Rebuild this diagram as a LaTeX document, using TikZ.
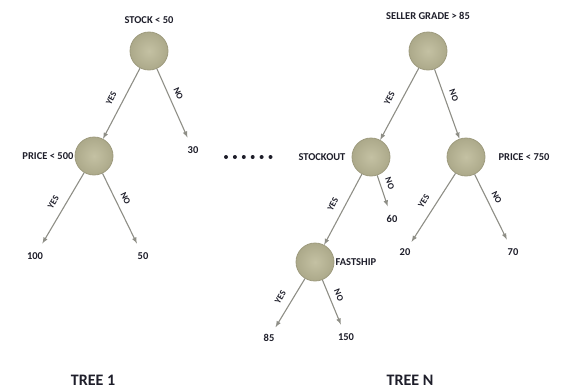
\documentclass[tikz,border=0pt]{standalone}
\usepackage{fontspec}
\setmainfont{Carlito}
\usetikzlibrary{positioning}

\definecolor{nodein}{HTML}{C4C1A3}
\definecolor{nodeout}{HTML}{ACA98A}
\definecolor{nodeedge}{HTML}{9E9B7E}
\definecolor{edgegray}{HTML}{8E8E86}
\definecolor{txt}{HTML}{1E1E2A}

\begin{document}
\begin{tikzpicture}[x=1pt, y=-1pt,
        split/.style={circle, minimum size=38pt, inner sep=0pt, draw=nodeedge, line width=0.8pt, inner color=nodein, outer color=nodeout},
        cond/.style={font=\bfseries\fontsize{10.5}{12}\selectfont, text=txt, inner sep=1pt},
        leaf/.style={font=\bfseries\fontsize{10.5}{12}\selectfont, text=txt, inner sep=1pt, outer ysep=8pt},
        branch/.style={draw=edgegray, line width=1.1pt, -latex},
        yes/.style={sloped, above=8pt, pos=0.5, inner sep=0pt, font=\bfseries\fontsize{9}{10}\selectfont, text=txt},
        no/.style={sloped, above=6pt, pos=0.42, inner sep=0pt, font=\bfseries\fontsize{9}{10}\selectfont, text=txt},
        title/.style={font=\bfseries\fontsize{16}{18}\selectfont, text=txt}]
        %\draw[step=20pt,gray,very thin] (0,0) grid (561,388);
        \useasboundingbox (0,0) rectangle (561,388);

        % Tree 1.
        \node[split] (stock) at (149,51) {};
        \node[cond, above=7pt of stock] (stockL) {STOCK < 50};
        \node[split] (price1) at (94,156) {};
        \node[cond, left=0pt of price1] (price1L) {PRICE < 500};
        \node[leaf] (v30) at (193,150) {30};
        \node[leaf] (v100) at (35,256) {100};
        \node[leaf] (v50) at (143,256) {50};

        \draw[branch] (stock) -- (price1) node[yes] (stockY) {YES};
        \draw[branch] (stock) -- (v30) node[no] (stockN) {NO};
        \draw[branch] (price1) -- (v100) node[yes] (price1Y) {YES};
        \draw[branch] (price1) -- (v50) node[no] (price1N) {NO};

        \node[title] (tree1) at (93,380) {TREE 1};

        % dots between the trees
        \foreach \i in {0,...,5}
            \fill[txt] (226+8.9*\i,157) circle (2pt);

        % Tree N.
        \node[split] (grade) at (428,51) {};
        \node[cond, above=11pt of grade] (gradeL) {SELLER GRADE > 85};
        \node[split] (stockout) at (371,157) {};
        \node[cond, left=5pt of stockout] (stockoutL) {STOCKOUT};
        \node[split] (price2) at (466,157) {};
        \node[cond, right=12pt of price2] (price2L) {PRICE < 750};
        \node[split] (fast) at (315,262) {};
        \node[cond, right=0pt of fast] (fastL) {FASTSHIP};
        \node[leaf] (v60) at (392,219) {60};
        \node[leaf] (v20) at (405,252) {20};
        \node[leaf] (v70) at (513,252) {70};
        \node[leaf] (v85) at (269,338) {85};
        \node[leaf] (v150) at (346,337) {150};

        \draw[branch] (grade) -- (stockout) node[yes] (gradeY) {YES};
        \draw[branch] (grade) -- (price2) node[no] (gradeN) {NO};
        \draw[branch] (stockout) -- (fast) node[yes] (stockoutY) {YES};
        \draw[branch] (stockout) -- (v60) node[no, pos=0.35] (stockoutN) {NO};
        \draw[branch] (price2) -- (v20) node[yes] (price2Y) {YES};
        \draw[branch] (price2) -- (v70) node[no] (price2N) {NO};
        \draw[branch] (fast) -- (v85) node[yes] (fastY) {YES};
        \draw[branch] (fast) -- (v150) node[no] (fastN) {NO};

        \node[title] (treeN) at (410,380) {TREE N};
    \end{tikzpicture}
\end{document}
